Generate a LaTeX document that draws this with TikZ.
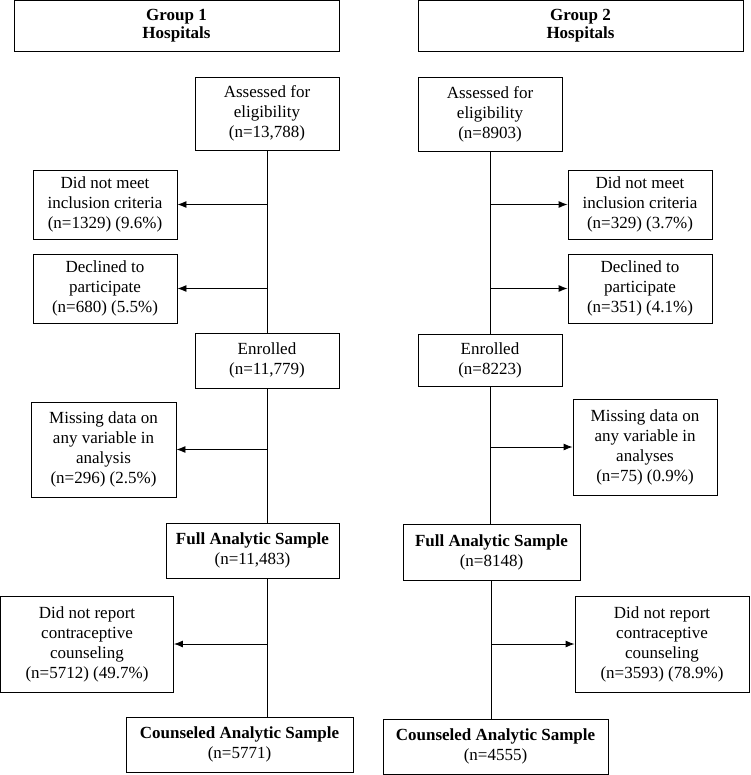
\documentclass[tikz,border=0pt]{standalone}
\usepackage{fontspec}
\setmainfont{Liberation Serif}
\usetikzlibrary{arrows.meta}
\tikzset{box/.style={draw, align=center, inner sep=0pt, font=\fontsize{17}{20}\selectfont},
  hdr/.style={box, font=\fontsize{17}{18}\selectfont\bfseries, minimum width=325pt, minimum height=51pt},
  side/.style={box, minimum width=144pt, minimum height=69pt},
  arr/.style={-{Latex[length=9pt,width=7pt]}}}

\begin{document}
\begin{tikzpicture}[x=1pt,y=-1pt,line width=0.9pt]
  \useasboundingbox (0,0) rectangle (750,775);
  % group 1
  \node[hdr] (head1) at (176.5,26) {Group 1\\Hospitals};
  \node[box,minimum width=144pt,minimum height=73pt] (assess1) at (267,113.5) {Assessed for\\eligibility\\(n=13,788)};
  \node[side] (dnm1) at (105,204.5) {Did not meet\\inclusion criteria\\(n=1329) (9.6\%)};
  \node[side] (decl1) at (105,288.5) {Declined to\\participate\\(n=680) (5.5\%)};
  \node[box,minimum width=144pt,minimum height=55pt] (enrol1) at (267,360.5) {Enrolled\\(n=11,779)};
  \node[box,minimum width=145pt,minimum height=95pt] (miss1) at (103.5,449.5) {Missing data on\\any variable in\\analysis\\(n=296) (2.5\%)};
  \node[box,minimum width=173pt,minimum height=55pt] (full1) at (252.5,550.5) {{\bfseries Full Analytic Sample}\\(n=11,483)};
  \node[box,minimum width=173pt,minimum height=96pt] (norep1) at (87,644) {Did not report\\contraceptive\\counseling\\(n=5712) (49.7\%)};
  \node[box,minimum width=227pt,minimum height=55pt] (couns1) at (239.5,744.5) {{\bfseries Counseled Analytic Sample}\\(n=5771)};
  % group 2
  \node[hdr] (head2) at (580.5,26) {Group 2\\Hospitals};
  \node[box,minimum width=144pt,minimum height=74pt] (assess2) at (490,114) {Assessed for\\eligibility\\(n=8903)};
  \node[side] (dnm2) at (640,204.5) {Did not meet\\inclusion criteria\\(n=329) (3.7\%)};
  \node[side] (decl2) at (640,288.5) {Declined to\\participate\\(n=351) (4.1\%)};
  \node[box,minimum width=144pt,minimum height=52pt] (enrol2) at (490,360) {Enrolled\\(n=8223)};
  \node[box,minimum width=144pt,minimum height=96pt] (miss2) at (645,447) {Missing data on\\any variable in\\analyses\\(n=75) (0.9\%)};
  \node[box,minimum width=177pt,minimum height=56pt] (full2) at (491.5,552) {{\bfseries Full Analytic Sample}\\(n=8148)};
  \node[box,minimum width=174pt,minimum height=96pt] (norep2) at (662,644) {Did not report\\contraceptive\\counseling\\(n=3593) (78.9\%)};
  \node[box,minimum width=225pt,minimum height=55pt] (couns2) at (495.5,746.5) {{\bfseries Counseled Analytic Sample}\\(n=4555)};
  % spines
  \draw (assess1) -- (enrol1);
  \draw (enrol1) -- (enrol1.south |- full1.north);
  \draw (full1.south -| enrol1) -- (couns1.north -| enrol1);
  \draw (assess2) -- (enrol2);
  \draw (enrol2.south) -- (enrol2.south |- full2.north);
  \draw (full2.south) -- (full2.south |- couns2.north);
  % exclusions
  \draw[arr] (assess1 |- dnm1) -- (dnm1.east);
  \draw[arr] (assess1 |- decl1) -- (decl1.east);
  \draw[arr] (enrol1 |- miss1) -- (miss1.east);
  \draw[arr] (enrol1 |- norep1) -- (norep1.east);
  \draw[arr] (assess2 |- dnm2) -- (dnm2.west);
  \draw[arr] (assess2 |- decl2) -- (decl2.west);
  \draw[arr] (enrol2 |- miss2) -- (miss2.west);
  \draw[arr] (full2 |- norep2) -- (norep2.west);
\end{tikzpicture}
\end{document}
